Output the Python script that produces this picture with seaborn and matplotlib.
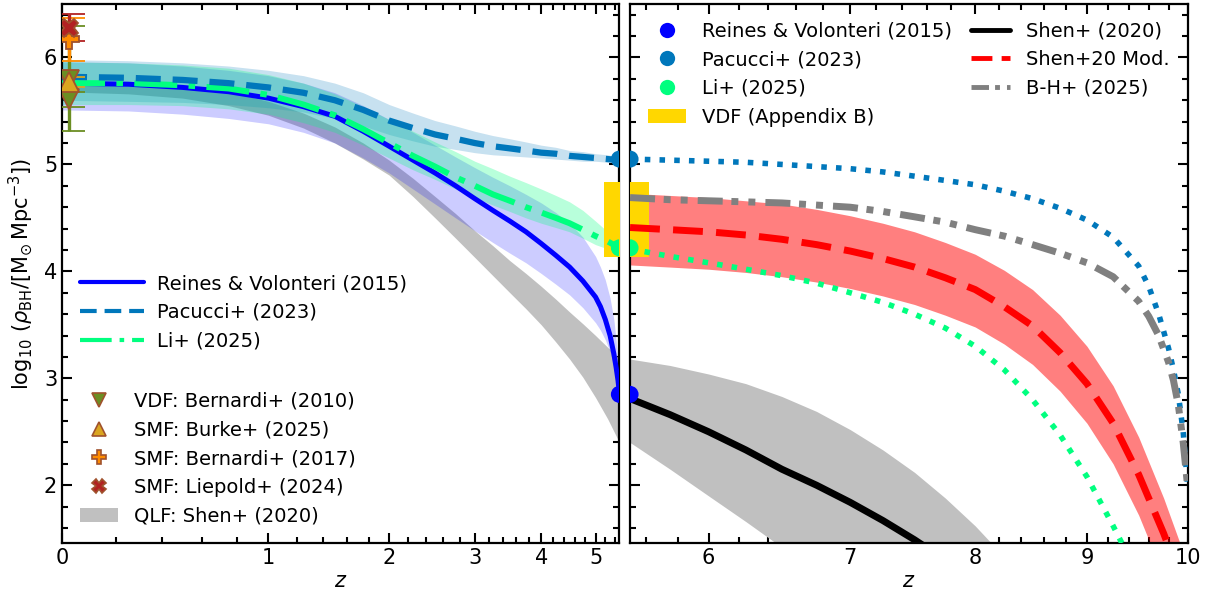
import numpy as np
import matplotlib
matplotlib.use("Agg")
import matplotlib.pyplot as plt
import seaborn as sns
from matplotlib.lines import Line2D
from matplotlib.patches import Patch
from matplotlib.ticker import FixedLocator, MultipleLocator, NullFormatter, FuncFormatter

# ---------------- black-hole mass density, log10(rho_BH) vs redshift ----------------
# low-redshift panel (0 <= z <= 5.5)
z_rv = [0, 0.25, 0.5, 0.75, 1, 1.25, 1.5, 1.75, 2, 2.25, 2.5, 2.75, 3, 3.25, 3.5,
        3.75, 4, 4.25, 4.5, 4.75, 5, 5.1, 5.2, 5.3, 5.38, 5.43, 5.47, 5.49, 5.5]
rv = [5.76, 5.75, 5.72, 5.68, 5.62, 5.54, 5.45, 5.31, 5.17, 5.04, 4.92, 4.80, 4.68, 4.57, 4.47,
      4.37, 4.26, 4.15, 4.04, 3.91, 3.76, 3.67, 3.55, 3.40, 3.23, 3.10, 2.98, 2.90, 2.85]
rv_hi = [5.96, 5.95, 5.92, 5.88, 5.83, 5.76, 5.67, 5.55, 5.42, 5.30, 5.18, 5.07, 4.97, 4.88, 4.80,
         4.72, 4.64, 4.55, 4.45, 4.32, 4.14, 4.04, 3.92, 3.75, 3.55, 3.35, 3.12, 2.95, 2.85]
rv_lo = [5.51, 5.50, 5.47, 5.43, 5.38, 5.30, 5.20, 5.06, 4.92, 4.77, 4.63, 4.50, 4.38, 4.27, 4.17,
         4.08, 3.98, 3.88, 3.78, 3.66, 3.52, 3.45, 3.36, 3.25, 3.12, 3.03, 2.95, 2.89, 2.85]

z_grid = [0, 0.25, 0.5, 0.75, 1, 1.25, 1.5, 1.75, 2, 2.25, 2.5, 2.75, 3, 3.25, 3.5,
          3.75, 4, 4.25, 4.5, 4.75, 5, 5.25, 5.5]
pac = [5.82, 5.81, 5.79, 5.76, 5.72, 5.67, 5.60, 5.51, 5.41, 5.34, 5.28, 5.24, 5.20, 5.17, 5.15,
       5.13, 5.11, 5.10, 5.08, 5.07, 5.06, 5.05, 5.04]
pac_hi = [5.98, 5.97, 5.95, 5.92, 5.88, 5.83, 5.76, 5.67, 5.56, 5.48, 5.41, 5.36, 5.31, 5.27, 5.24,
          5.21, 5.18, 5.16, 5.13, 5.12, 5.10, 5.09, 5.07]
pac_lo = [5.60, 5.59, 5.58, 5.56, 5.53, 5.49, 5.43, 5.36, 5.28, 5.22, 5.17, 5.14, 5.11, 5.09, 5.08,
          5.07, 5.06, 5.05, 5.04, 5.03, 5.03, 5.02, 5.01]

li = [5.76, 5.76, 5.74, 5.71, 5.65, 5.56, 5.46, 5.33, 5.20, 5.08, 4.98, 4.88, 4.80, 4.72, 4.66,
      4.60, 4.55, 4.50, 4.45, 4.39, 4.33, 4.28, 4.22]
li_hi = [5.96, 5.95, 5.93, 5.90, 5.84, 5.76, 5.66, 5.54, 5.42, 5.31, 5.21, 5.12, 5.03, 4.96, 4.89,
         4.83, 4.77, 4.71, 4.65, 4.57, 4.47, 4.37, 4.27]
li_lo = [5.56, 5.56, 5.55, 5.52, 5.47, 5.39, 5.30, 5.18, 5.06, 4.95, 4.86, 4.77, 4.69, 4.62, 4.56,
         4.50, 4.45, 4.41, 4.37, 4.31, 4.25, 4.21, 4.17]

qlf_hi = [5.78, 5.77, 5.74, 5.68, 5.59, 5.48, 5.35, 5.20, 5.04, 4.87, 4.70, 4.54, 4.38, 4.24, 4.10,
          3.98, 3.86, 3.74, 3.62, 3.51, 3.40, 3.29, 3.18]
qlf_lo = [5.68, 5.66, 5.62, 5.55, 5.46, 5.34, 5.20, 5.05, 4.90, 4.70, 4.50, 4.31, 4.13, 3.96, 3.80,
          3.65, 3.50, 3.34, 3.18, 3.01, 2.82, 2.62, 2.40]

# local measurements
z_local = 0.023
vdf_y = [5.79, 5.61]
vdf_err_lo = [0.48, 0.07]
vdf_err_hi = [0.50, 0.07]
burke_y, burke_err = 5.77, 0.05
bern17_y, bern17_err = 6.17, 0.20
liep_y, liep_err = 6.28, 0.13

# high-redshift panel (5.5 <= z <= 10)
z_shen = [5.5, 5.75, 6.0, 6.25, 6.5, 6.75, 7.0, 7.25, 7.5, 7.75]
shen = [2.81, 2.66, 2.50, 2.33, 2.15, 2.00, 1.84, 1.67, 1.49, 1.30]
z_qlf_r = [5.5, 5.75, 6.0, 6.25, 6.5, 6.75, 7.0, 7.25, 7.5, 7.75, 8.0, 8.25]
qlf_r_hi = [3.18, 3.12, 3.04, 2.95, 2.83, 2.69, 2.52, 2.33, 2.12, 1.88, 1.62, 1.33]
qlf_r_lo = [2.40, 2.15, 1.90, 1.66, 1.42, 1.18, 0.95, 0.70, 0.45, 0.20, -0.05, -0.30]

z_mod = [5.5, 5.75, 6.0, 6.25, 6.5, 6.75, 7.0, 7.25, 7.5, 7.75, 8.0, 8.25, 8.5, 8.75, 9.0,
         9.25, 9.5, 9.75, 10.0]
mod = [4.41, 4.39, 4.37, 4.34, 4.30, 4.25, 4.19, 4.12, 4.04, 3.94, 3.83, 3.67, 3.49, 3.24, 2.95,
       2.58, 2.10, 1.55, 0.95]
mod_hi = [4.73, 4.71, 4.69, 4.66, 4.63, 4.58, 4.52, 4.45, 4.37, 4.27, 4.16, 4.01, 3.83, 3.59, 3.30,
          2.93, 2.45, 1.88, 1.25]
mod_lo = [4.06, 4.04, 4.02, 3.99, 3.95, 3.90, 3.84, 3.77, 3.69, 3.59, 3.48, 3.32, 3.13, 2.88, 2.58,
          2.20, 1.72, 1.15, 0.55]

z_li_ext = [5.5, 5.75, 6.0, 6.25, 6.5, 6.75, 7.0, 7.25, 7.5, 7.75, 8.0, 8.25, 8.5, 8.75, 9.0,
            9.25, 9.5]
li_ext = [4.21, 4.14, 4.08, 4.02, 3.96, 3.89, 3.80, 3.71, 3.60, 3.47, 3.30, 3.08, 2.80, 2.47, 2.08,
          1.62, 1.15]

z_ext = [5.5, 5.75, 6.0, 6.25, 6.5, 6.75, 7.0, 7.25, 7.5, 7.75, 8.0, 8.25, 8.5, 8.75, 9.0,
         9.25, 9.5, 9.6, 9.7, 9.8, 9.85, 9.9, 9.95, 10.0]
pac_ext = [5.05, 5.04, 5.03, 5.02, 5.00, 4.98, 4.96, 4.93, 4.89, 4.85, 4.81, 4.75, 4.68, 4.59, 4.48,
           4.32, 4.05, 3.86, 3.60, 3.28, 3.08, 2.85, 2.50, 1.95]
bh = [4.69, 4.67, 4.66, 4.65, 4.64, 4.62, 4.60, 4.56, 4.51, 4.46, 4.39, 4.33, 4.25, 4.17, 4.08,
      3.95, 3.72, 3.58, 3.40, 3.15, 2.98, 2.75, 2.40, 1.95]

# values at the panel boundary z = 5.5
z_join = 5.5
join_rv, join_pac, join_li = 2.85, 5.05, 4.22
vdf_box_z = [5.17, 5.62]
vdf_box_y = [4.13, 4.84]

# ---------------- styling ----------------
sns.set_theme(style="ticks", rc={
    "axes.edgecolor": "black", "axes.labelcolor": "black", "text.color": "black",
    "xtick.color": "black", "ytick.color": "black", "axes.linewidth": 1.6,
})
plt.rcParams["font.family"] = ["DejaVu Sans"]
plt.rcParams["mathtext.fontset"] = "dejavusans"

C_RV = "#0000FF"
C_PAC = "#0077BB"
C_LI = "#00FF7F"
C_QLF = "#C0C0C0"
C_VDF = "#FFD700"

DASH_PAC = (0, (4.0, 1.9))
DASHDOT_LI = (0, (7.2, 1.9, 1.1, 1.9))
DASH_MOD = (0, (4.3, 1.9))
DDD_BH = (0, (3.6, 1.25, 1.0, 1.45, 1.0, 1.45))


def fwd(z):
    return np.log10(1.0 + np.asarray(z, dtype=float))


def inv(u):
    return 10.0 ** np.asarray(u, dtype=float) - 1.0


fig = plt.figure(figsize=(12.14, 6.0), dpi=100)
ax1 = fig.add_axes([0.0511, 0.095, 0.4591, 0.8983])
ax2 = fig.add_axes([0.5190, 0.095, 0.4596, 0.8983])

for ax in (ax1, ax2):
    ax.set_xscale("function", functions=(fwd, inv))
    ax.set_ylim(1.46, 6.5)
    ax.yaxis.set_major_locator(FixedLocator([2, 3, 4, 5, 6]))
    ax.yaxis.set_minor_locator(MultipleLocator(0.2))
    ax.xaxis.set_minor_locator(MultipleLocator(0.2))
    ax.xaxis.set_minor_formatter(NullFormatter())
    ax.xaxis.set_major_formatter(FuncFormatter(lambda v, p: f"{v:g}"))
    ax.tick_params(which="both", direction="in", top=True, right=True,
                   labelsize=15, width=1.5)
    ax.tick_params(which="major", length=7)
    ax.tick_params(which="minor", length=4)
    ax.set_xlabel(r"$z$", fontsize=15, labelpad=2)

ax1.set_xlim(0, 5.5)
ax2.set_xlim(5.5, 10)
ax1.xaxis.set_major_locator(FixedLocator([0, 1, 2, 3, 4, 5]))
ax2.xaxis.set_major_locator(FixedLocator([6, 7, 8, 9, 10]))
ax2.tick_params(axis="y", labelleft=False)
ax1.set_ylabel(r"$\log_{10}\,(\rho_{\rm BH}/[{\rm M}_{\odot}\,{\rm Mpc}^{-3}])$",
               fontsize=15, labelpad=6)

line_kw = dict(sort=False, estimator=None, legend=False, zorder=4)

# ---------------- left panel ----------------
ax1.fill_between(z_grid, qlf_lo, qlf_hi, color=C_QLF, lw=0, zorder=1)
ax1.fill_between(z_rv, rv_lo, rv_hi, color=C_RV, alpha=0.2, lw=0, zorder=2)
ax1.fill_between(z_grid, pac_lo, pac_hi, color=C_PAC, alpha=0.22, lw=0, zorder=2)
ax1.fill_between(z_grid, li_lo, li_hi, color=C_LI, alpha=0.28, lw=0, zorder=2)
ax1.fill_betweenx(vdf_box_y, vdf_box_z[0], vdf_box_z[1], color=C_VDF, lw=0, zorder=3)

sns.lineplot(x=z_rv, y=rv, ax=ax1, color=C_RV, lw=3.6, **line_kw)
sns.lineplot(x=z_grid, y=li, ax=ax1, color=C_LI, lw=4.3, linestyle=DASHDOT_LI, **line_kw)
sns.lineplot(x=z_grid, y=pac, ax=ax1, color=C_PAC, lw=4.5, linestyle=DASH_PAC, **line_kw)

# local points
eb_kw = dict(ms=15, mec="#A0522D", mew=1.3, elinewidth=2.4, capsize=11.5,
             capthick=1.8, ls="none", zorder=6)
ax1.errorbar([z_local] * 2, vdf_y, yerr=[vdf_err_lo, vdf_err_hi], fmt="v",
             mfc="#6B8E23", ecolor="#6B8E23", **eb_kw)
ax1.errorbar([z_local], [burke_y], yerr=[[burke_err], [burke_err]], fmt="^",
             mfc="#DAA520", ecolor="#DAA520", **eb_kw)
ax1.errorbar([z_local], [bern17_y], yerr=[[bern17_err], [bern17_err]], fmt="P",
             mfc="#FF8C00", ecolor="#FF8C00", **eb_kw)
ax1.errorbar([z_local], [liep_y], yerr=[[liep_err], [liep_err]], fmt="X",
             mfc="#B22222", ecolor="#B22222", **{**eb_kw, "ms": 13})

# ---------------- right panel ----------------
ax2.fill_between(z_qlf_r, qlf_r_lo, qlf_r_hi, color=C_QLF, lw=0, zorder=1)
ax2.fill_between(z_mod, mod_lo, mod_hi, color="#FF0000", alpha=0.5, lw=0, zorder=2)
ax2.fill_betweenx(vdf_box_y, vdf_box_z[0], vdf_box_z[1], color=C_VDF, lw=0, zorder=3)

sns.lineplot(x=z_shen, y=shen, ax=ax2, color="black", lw=5, **line_kw)
sns.lineplot(x=z_mod, y=mod, ax=ax2, color="#FF0000", lw=5, linestyle=DASH_MOD, **line_kw)
sns.lineplot(x=z_ext, y=pac_ext, ax=ax2, color=C_PAC, lw=4, linestyle=":", **line_kw)
sns.lineplot(x=z_li_ext, y=li_ext, ax=ax2, color=C_LI, lw=4, linestyle=":", **line_kw)
sns.lineplot(x=z_ext, y=bh, ax=ax2, color="#808080", lw=5, linestyle=DDD_BH, **line_kw)

# boundary values shared by both panels (clipped to half discs at the edge)
for ax in (ax1, ax2):
    sns.scatterplot(x=[z_join] * 3, y=[join_rv, join_pac, join_li], ax=ax,
                    hue=["rv", "pac", "li"], palette=[C_RV, C_PAC, C_LI],
                    s=150, edgecolor="none", legend=False, zorder=7, clip_on=True)

# ---------------- legends ----------------
leg_kw = dict(frameon=False, fontsize=14, labelspacing=0.5)
h_lines = [
    Line2D([], [], color=C_RV, lw=3),
    Line2D([], [], color=C_PAC, lw=3, linestyle=DASH_PAC),
    Line2D([], [], color=C_LI, lw=3, linestyle=(0, (7.6, 1.9, 1.1, 1.9))),
]
leg1 = ax1.legend(h_lines, ["Reines & Volonteri (2015)", "Pacucci+ (2023)", "Li+ (2025)"],
                  loc="center left", bbox_to_anchor=(0, 0.428), handlelength=3.3,
                  handletextpad=0.7, **leg_kw)
ax1.add_artist(leg1)

mk = dict(ls="none", mec="#A0522D", mew=1.2, ms=10)
h_pts = [
    Line2D([], [], marker="v", mfc="#6B8E23", **mk),
    Line2D([], [], marker="^", mfc="#DAA520", **mk),
    Line2D([], [], marker="P", mfc="#FF8C00", **mk),
    Line2D([], [], marker="X", mfc="#B22222", **mk),
    Patch(facecolor=C_QLF, edgecolor="none"),
]
ax1.legend(h_pts, ["VDF: Bernardi+ (2010)", "SMF: Burke+ (2025)", "SMF: Bernardi+ (2017)",
                   "SMF: Liepold+ (2024)", "QLF: Shen+ (2020)"],
           loc="lower left", handlelength=2.0, handletextpad=0.8, **leg_kw)

dot = dict(ls="none", marker="o", ms=11, mec="none")
h_right = [
    Line2D([], [], color=C_RV, **dot),
    Line2D([], [], color=C_PAC, **dot),
    Line2D([], [], color=C_LI, **dot),
    Patch(facecolor=C_VDF, edgecolor="none"),
    Line2D([], [], color="black", lw=3.5),
    Line2D([], [], color="#FF0000", lw=3.5, linestyle=DASH_MOD),
    Line2D([], [], color="#808080", lw=3.5, linestyle=DDD_BH),
]
ax2.legend(h_right, ["Reines & Volonteri (2015)", "Pacucci+ (2023)", "Li+ (2025)",
                     "VDF (Appendix B)", "Shen+ (2020)", "Shen+20 Mod.", "B-H+ (2025)"],
           loc="upper left", ncol=2, handlelength=2.0, handletextpad=0.8,
           columnspacing=1.0, **leg_kw)

fig.savefig("out.png", dpi=100)
